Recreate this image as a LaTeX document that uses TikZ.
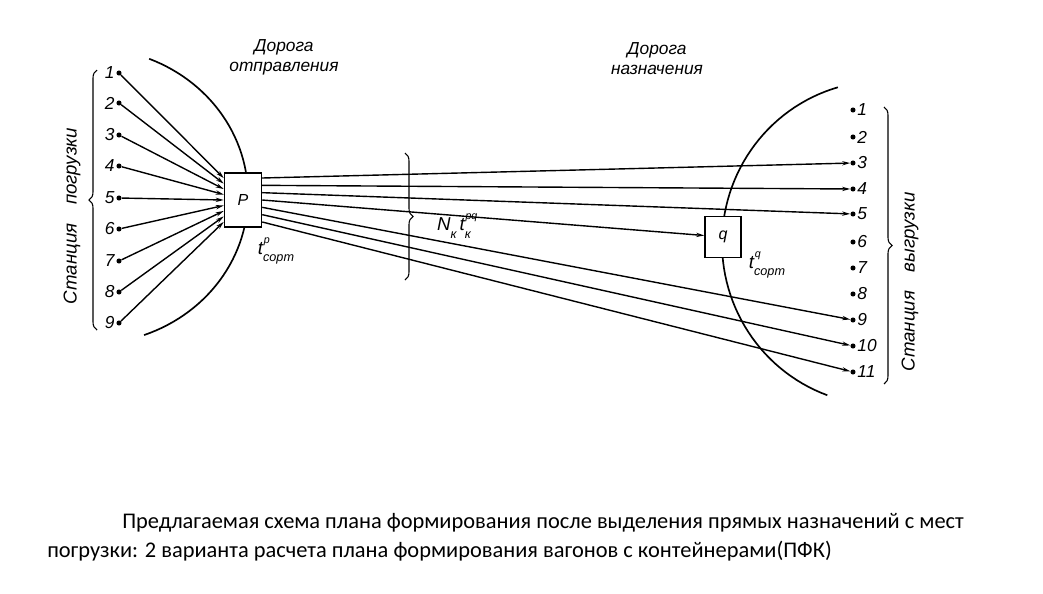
\documentclass[tikz,border=0pt]{standalone}
\usepackage{fontspec}
\setmainfont{Liberation Sans}
\newfontfamily\capfont{Carlito}
\usetikzlibrary{arrows.meta,decorations.pathreplacing,positioning}
\newcommand{\supsub}[2]{\rlap{\raisebox{1.15ex}{\fontsize{8}{8}\selectfont\hspace{0.5pt}#1}}\raisebox{-0.75ex}{\fontsize{9.5}{9.5}\selectfont #2}}
\tikzset{
	stn/.style = {circle, fill=black, inner sep=0pt, minimum size=3.8pt},
	num/.style = {font=\fontsize{13}{14}\selectfont\itshape, inner sep=1pt},
	sortbox/.style = {draw=black, fill=white, line width=1.1pt, inner sep=0pt, font=\fontsize{12}{14}\selectfont\itshape},
	road/.style = {align=center, font=\fontsize{13}{15}\selectfont\itshape},
	stlab/.style = {font=\fontsize{14}{16}\selectfont\itshape, rotate=90},
	tlab/.style = {font=\fontsize{14}{15}\selectfont\itshape},
	wire/.style = {line width=1.05pt, -{Stealth[length=6pt,width=3.2pt]}},
	arcline/.style = {line width=1.25pt},
	brc/.style = {line width=0.8pt, decorate, decoration={brace, amplitude=6pt}},
	capline/.style = {anchor=base west, inner sep=0pt, font=\capfont\fontsize{16.8}{18}\selectfont}
}
\begin{document}
\begin{tikzpicture}[x=0.75pt, y=-0.75pt]
	\useasboundingbox (0,0) rectangle (1043,593);
	% the two road borders
	\draw[arcline] plot[domain=-68:70, samples=60] ({90+158*cos(\x)},{196+148*sin(\x)});
	\draw[arcline] plot[domain=110:254, samples=60] ({882+160*cos(\x)},{243+162*sin(\x)});
	% sorting points
	\node[sortbox, minimum width=27.75pt, minimum height=40.5pt] (P) at (243,200) {P};
	\node[sortbox, minimum width=27pt, minimum height=30.75pt] (q) at (723,237) {q};
	\node[tlab] (tp) at (276,251) {t\supsub{p}{сорт}};
	\node[tlab] (tq) at (767,265) {t\supsub{q}{сорт}};
	% loading stations
	\foreach \i/\y in {1/73,2/103,3/135,4/166,5/198,6/229,7/261,8/292,9/323}
		\node[stn, label={[num]left:\i}] (L\i) at (119,\y) {};
	% unloading stations
	\foreach \i/\y in {1/110,2/137,3/163,4/189,5/214,6/242,7/268,8/294,9/320,10/346,11/372}
		\node[stn, label={[num]right:\i}] (R\i) at (853,\y) {};
	% flows into P
	\foreach \i in {1,...,9}
		\draw[wire] (L\i) -- ([yshift={(5-\i)*4.1pt}]P.west);
	% flows out of P
	\foreach \t [count=\k] in {R3,R4,R5,q,R9,R10,R11}
		\draw[wire] ([yshift={(4-\k)*5.5pt}]P.east) -- (\t);
	% braces
	\coordinate (lb1) at (97,330);
	\coordinate (lb2) at (97,70);
	\coordinate (mb1) at (405,153);
	\coordinate (mb2) at (405,280);
	\coordinate (rb1) at (884,107);
	\coordinate (rb2) at (884,384);
	\draw[brc] (lb1) -- (lb2);
	\draw[brc] (mb1) -- (mb2);
	\draw[brc] (rb1) -- (rb2);
	\node[tlab] (nk) at (454,226) {N\raisebox{-0.75ex}{\fontsize{9.5}{9.5}\selectfont к}\,t\supsub{pq}{к}};
	% labels
	\node[stlab] (lsta) at (72,216) {Станция\hspace{1em}погрузки};
	\node[stlab] (rsta) at (910,282) {Станция\hspace{1em}выгрузки};
	\node[road] (dep) at (284,57) {Дорога\\отправления};
	\node[road] (dst) at (657,59) {Дорога\\назначения};
	% caption
	\node[capline] (cap1) at (122,528) {Предлагаемая схема плана формирования после выделения прямых назначений с мест};
	\node[capline] (cap2) at (47,557) {погрузки: 2 варианта расчета плана формирования вагонов с контейнерами(ПФК)};
\end{tikzpicture}
\end{document}
